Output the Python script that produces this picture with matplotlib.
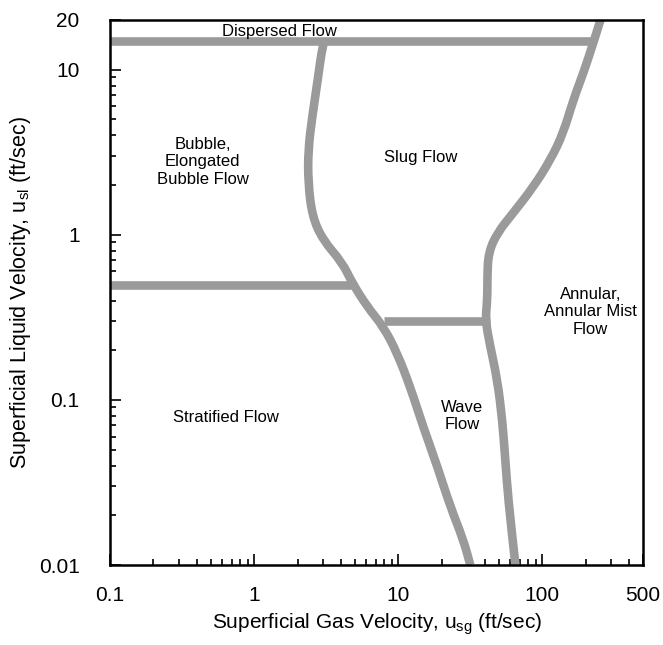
import numpy as np
import matplotlib
matplotlib.use("Agg")
import matplotlib.pyplot as plt
from matplotlib.path import Path
from matplotlib.patches import PathPatch
from matplotlib.ticker import FixedLocator, LogLocator, NullFormatter

plt.rcParams['font.family'] = ['Liberation Sans', 'DejaVu Sans']
plt.rcParams['mathtext.fontset'] = 'custom'
plt.rcParams['mathtext.rm'] = 'Liberation Sans'
plt.rcParams['mathtext.it'] = 'Liberation Sans'

# regime boundaries, (u_sg, u_sl) in ft/sec
slug_left_x = [3.1, 3.0, 2.74, 2.53, 2.37, 2.37, 2.53, 3.0, 4.08, 4.8, 6.1, 7.9,
               9.8, 12.1, 14.9, 18.7, 23.0, 28.3, 31.6]
slug_left_y = [15.0, 14.6, 8.3, 5.2, 3.27, 2.07, 1.29, 0.93, 0.68, 0.51, 0.366, 0.277,
               0.193, 0.12, 0.0686, 0.0393, 0.0225, 0.0142, 0.01]

annular_x = [253, 226, 193, 164, 140, 114, 86.6, 62.9, 48.7, 42.2, 41.5, 41.5,
             40.2, 43.5, 48.7, 52.7, 55.3, 58.0, 65.0]
annular_y = [20, 14.6, 9.6, 6.58, 4.15, 2.85, 1.95, 1.36, 1.03, 0.778, 0.556, 0.404,
             0.305, 0.21, 0.132, 0.0757, 0.0433, 0.0248, 0.01]

dispersed_x = [0.1, 226]
dispersed_y = [15.0, 15.0]

stratified_x = [0.1, 4.8]
stratified_y = [0.5, 0.5]

wave_x = [8.0, 41.0]
wave_y = [0.3, 0.3]

regime_labels = ["Dispersed Flow", "Bubble,\nElongated\nBubble Flow", "Slug Flow",
                 "Annular,\nAnnular Mist\nFlow", "Wave\nFlow", "Stratified Flow"]
label_x = [1.5, 0.44, 14.2, 215, 27.8, 0.64]
label_y = [17.0, 2.77, 2.93, 0.341, 0.08, 0.078]

x_ticks = [0.1, 1, 10, 100, 500]
y_ticks = [0.01, 0.1, 1, 10, 20]


def smooth_path(xs, ys):
    # quadratic bezier through midpoints (geometric means, since both axes are log)
    pts = list(zip(xs, ys))
    verts, codes = [pts[0]], [Path.MOVETO]
    for i in range(1, len(pts) - 1):
        mid = (np.sqrt(pts[i][0] * pts[i + 1][0]), np.sqrt(pts[i][1] * pts[i + 1][1]))
        verts += [pts[i], mid]
        codes += [Path.CURVE3, Path.CURVE3]
    verts.append(pts[-1])
    codes.append(Path.LINETO)
    return Path(verts, codes)


fig = plt.figure(figsize=(6.63, 6.45), dpi=100)
ax = fig.add_axes([0.166, 0.124, 0.804, 0.845])
ax.set_xscale('log')
ax.set_yscale('log')
ax.set_xlim(0.1, 500)
ax.set_ylim(0.01, 20)

band_color = '#9a9a9a'
band_lw = 6.2
for xs, ys in [(dispersed_x, dispersed_y), (stratified_x, stratified_y), (wave_x, wave_y)]:
    ax.plot(xs, ys, color=band_color, lw=band_lw, solid_capstyle='butt', zorder=2)
for xs, ys in [(slug_left_x, slug_left_y), (annular_x, annular_y)]:
    ax.add_patch(PathPatch(smooth_path(xs, ys), facecolor='none', edgecolor=band_color,
                           lw=band_lw, capstyle='butt', joinstyle='round', zorder=2))

for txt, x, y in zip(regime_labels, label_x, label_y):
    ax.text(x, y, txt, ha='center', va='center', fontsize=12, linespacing=1.2, zorder=3)

ax.xaxis.set_major_locator(FixedLocator(x_ticks))
ax.set_xticklabels([str(t) for t in x_ticks])
ax.xaxis.set_minor_locator(LogLocator(base=10, subs=np.arange(2, 10)))
ax.xaxis.set_minor_formatter(NullFormatter())
ax.yaxis.set_major_locator(FixedLocator(y_ticks))
ax.set_yticklabels([str(t) for t in y_ticks])
ax.yaxis.set_minor_locator(LogLocator(base=10, subs=np.arange(2, 10)))
ax.yaxis.set_minor_formatter(NullFormatter())

ax.tick_params(which='both', direction='in', top=False, right=False, labelsize=15, width=1.2)
ax.tick_params(which='major', length=8)
ax.tick_params(axis='x', which='major', pad=15)
ax.tick_params(axis='y', which='major', pad=22)
ax.tick_params(which='minor', length=4)
for s in ax.spines.values():
    s.set_linewidth(1.8)

ax.set_xlabel(r"Superficial Gas Velocity, u$_{\mathrm{sg}}$ (ft/sec)", fontsize=15)
ax.set_ylabel(r"Superficial Liquid Velocity, u$_{\mathrm{sl}}$ (ft/sec)", fontsize=15.5)
ax.xaxis.set_label_coords(0.5, -0.085)
ax.yaxis.set_label_coords(-0.145, 0.5)

fig.savefig("out.png", dpi=100)
